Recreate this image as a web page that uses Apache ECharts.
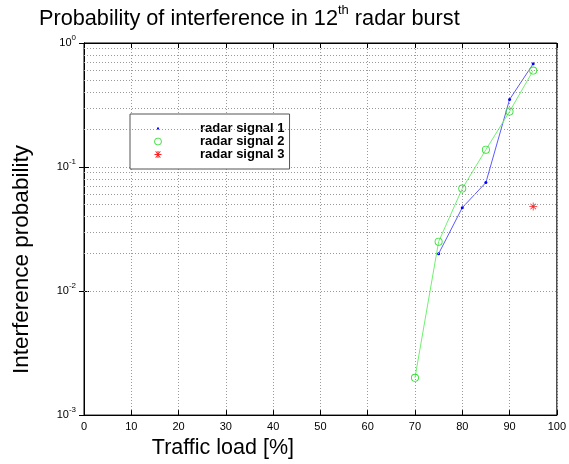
<!DOCTYPE html>
<html>
<head>
<meta charset="utf-8">
<script src="https://cdn.jsdelivr.net/npm/echarts@6/dist/echarts.min.js"></script>
<style>
  html, body { margin: 0; padding: 0; background: #fff; }
  #chart { width: 569px; height: 464px; }
</style>
</head>
<body>
<div id="chart"></div>
<script>
// traffic load (%) and interference probability per radar signal
var load = [70, 75, 80, 85, 90, 95];
var signal1 = [null, 0.020, 0.047, 0.075, 0.35, 0.68];
var signal2 = [0.002, 0.025, 0.067, 0.138, 0.28, 0.60];
var signal3 = [null, null, null, null, null, 0.048];
var seriesNames = ['radar signal 1', 'radar signal 2', 'radar signal 3'];

// minor (dotted) gridlines of the log axis: 2..9 times each decade
var decades = [0.001, 0.01, 0.1];
var minorSteps = [2, 3, 4, 5, 6, 7, 8, 9];

var blue = '#0000ff', blueLine = '#5a5aff';
var green = '#33e033', greenLine = '#70f070';
var red = '#ff2222';
var gridColor = '#9a9a9a';

function pairs(ys) {
  return load.map(function(x, i) { return [x, ys[i]]; })
    .filter(function(p) { return p[1] != null; });
}

var minorValues = [];
decades.forEach(function(d) {
  minorSteps.forEach(function(m) { minorValues.push(+(d * m).toPrecision(3)); });
});

function supLabel(v) {
  return '{b|10}{sup|' + Math.round(Math.log10(v)) + '}';
}

// asterisk marker and thin open circle (ring)
var starPath = 'path://M0,4.5L10,4.5L10,5.5L0,5.5Z M4.5,0L5.5,0L5.5,10L4.5,10Z ' +
  'M1.2,1.9L1.9,1.2L8.8,8.1L8.1,8.8Z M8.1,1.2L8.8,1.9L1.9,8.8L1.2,8.1Z';
var ringPath = 'path://M0,5A5,5 0 1,1 10,5A5,5 0 1,1 0,5Z M1.1,5A3.9,3.9 0 1,0 8.9,5A3.9,3.9 0 1,0 1.1,5Z';

// legend icons: the two leading moves fix the icon box (55x13) so the marker keeps its size
var iconBox = 'path://M0,0M55,13';
var legendIcons = [
  iconBox + 'M17,5.5L19,5.5L19,7.5L17,7.5Z',
  iconBox + 'M14.2,6.5A3.8,3.8 0 1,1 21.8,6.5A3.8,3.8 0 1,1 14.2,6.5Z M15.1,6.5A2.9,2.9 0 1,0 20.9,6.5A2.9,2.9 0 1,0 15.1,6.5Z',
  iconBox + 'M14.5,6L21.5,6L21.5,7L14.5,7Z M17.5,3L18.5,3L18.5,10L17.5,10Z ' +
    'M15.3,3.6L16,3.0L20.7,9.4L20,10Z M20,3L20.7,3.6L16,10L15.3,9.4Z'
];

var chart = echarts.init(document.getElementById('chart'), null, { renderer: 'canvas' });

var dotted = { color: gridColor, type: [1, 2], width: 1 };

chart.setOption({
  animation: false,
  textStyle: { fontFamily: 'Liberation Sans', color: '#000' },
  title: {
    text: 'Probability of interference in 12{sup|th} radar burst',
    left: 39,
    top: 4,
    padding: 0,
    textStyle: {
      fontFamily: 'Liberation Sans',
      fontSize: 21.7,
      fontWeight: 'normal',
      color: '#000',
      lineHeight: 30,
      rich: {
        sup: { fontSize: 13, lineHeight: 12, verticalAlign: 'top', fontFamily: 'Liberation Sans' }
      }
    }
  },
  legend: {
    orient: 'vertical',
    left: 130,
    top: 114,
    padding: [8, 5, 8, 10],
    itemGap: 0,
    itemWidth: 55,
    itemHeight: 13,
    backgroundColor: '#fff',
    borderColor: '#555',
    borderWidth: 1,
    selectedMode: false,
    textStyle: { fontSize: 13, fontWeight: 'bold', lineHeight: 13, color: '#000' },
    data: [
      { name: seriesNames[0], icon: legendIcons[0], itemStyle: { color: blue, borderWidth: 0 } },
      { name: seriesNames[1], icon: legendIcons[1], itemStyle: { color: green, borderWidth: 0 } },
      { name: seriesNames[2], icon: legendIcons[2], itemStyle: { color: red, borderWidth: 0 } }
    ]
  },
  grid: { left: 84, right: 10, top: 43, bottom: 46, show: true, borderColor: '#000', borderWidth: 1, z: 5 },
  xAxis: [
    {
      type: 'value',
      min: 0,
      max: 100,
      interval: 10,
      name: 'Traffic load [%]',
      nameLocation: 'middle',
      nameGap: 17,
      nameTextStyle: { fontSize: 21.5, color: '#000', padding: [0, 195, 0, 0] },
      axisLine: { lineStyle: { color: '#000' } },
      axisTick: { inside: true, length: 5, lineStyle: { color: '#000' } },
      axisLabel: { fontSize: 11, margin: 6, color: '#000' },
      splitLine: { show: true, lineStyle: dotted }
    },
    {
      type: 'value',
      position: 'top',
      min: 0,
      max: 100,
      interval: 10,
      axisLine: { lineStyle: { color: '#000' } },
      axisTick: { inside: true, length: 5, lineStyle: { color: '#000' } },
      axisLabel: { show: false },
      splitLine: { show: false }
    }
  ],
  yAxis: [
    {
      type: 'log',
      logBase: 10,
      min: 0.001,
      max: 1,
      splitNumber: 3,
      name: 'Interference probability',
      nameLocation: 'middle',
      nameGap: 51,
      nameTextStyle: { fontSize: 22.5, color: '#000', padding: [0, 61, 0, 0] },
      axisLine: { lineStyle: { color: '#000' } },
      axisTick: { inside: true, length: 5, lineStyle: { color: '#000' } },
      axisLabel: {
        margin: 8,
        color: '#000',
        formatter: supLabel,
        rich: {
          b: { fontSize: 11, lineHeight: 18 },
          sup: { fontSize: 8, lineHeight: 8, verticalAlign: 'top' }
        }
      },
      splitLine: { show: true, lineStyle: dotted }
    },
    {
      type: 'log',
      logBase: 10,
      min: 0.001,
      max: 1,
      splitNumber: 3,
      position: 'right',
      axisLine: { lineStyle: { color: '#000' } },
      axisTick: { inside: true, length: 5, lineStyle: { color: '#000' } },
      axisLabel: { show: false },
      splitLine: { show: false }
    }
  ],
  series: [
    {
      name: seriesNames[0],
      type: 'line',
      data: pairs(signal1),
      symbol: 'circle',
      symbolSize: 3,
      itemStyle: { color: blue },
      lineStyle: { color: blueLine, width: 1 },
      emphasis: { disabled: true },
      z: 3,
      markLine: {
        silent: true,
        symbol: 'none',
        label: { show: false },
        lineStyle: dotted,
        emphasis: { disabled: true },
        data: minorValues.map(function(v) { return { yAxis: v }; })
      }
    },
    {
      name: seriesNames[1],
      type: 'line',
      data: pairs(signal2),
      symbol: ringPath,
      symbolSize: 8,
      itemStyle: { color: green, borderWidth: 0 },
      lineStyle: { color: greenLine, width: 1 },
      emphasis: { disabled: true },
      z: 4
    },
    {
      name: seriesNames[2],
      type: 'line',
      data: pairs(signal3),
      symbol: starPath,
      symbolSize: 8,
      itemStyle: { color: red },
      lineStyle: { color: red, width: 1 },
      emphasis: { disabled: true },
      z: 4
    }
  ]
});
window.addEventListener('resize', function() { chart.resize(); });
</script>
</body>
</html>
